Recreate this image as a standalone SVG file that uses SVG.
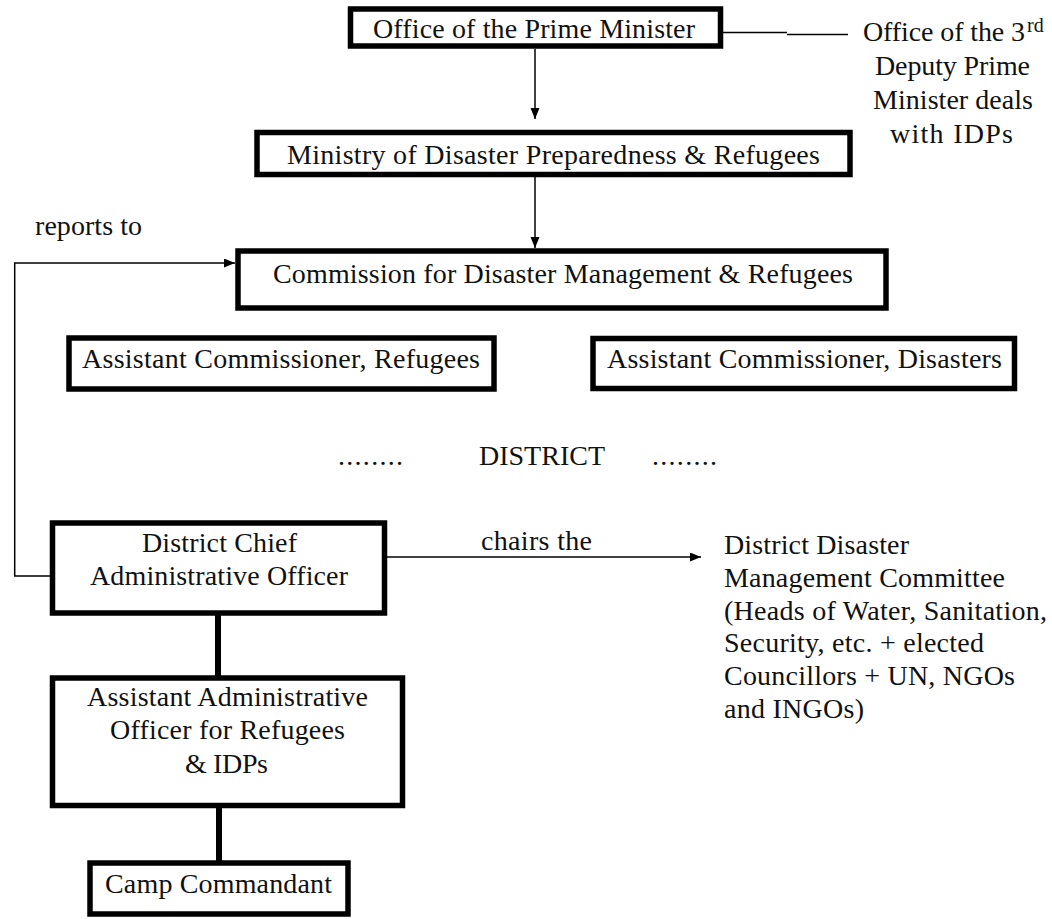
<svg xmlns="http://www.w3.org/2000/svg" width="1052" height="919" viewBox="0 0 1052 919">
  <style>
    text { font-family: "Liberation Serif", "Times New Roman", serif; font-size: 28px; fill: #111; }
    .box { fill: #fff; stroke: #000; stroke-width: 5.5; }
    .thin { fill: none; stroke: #000; stroke-width: 1.5; }
    .thick { fill: none; stroke: #000; stroke-width: 6; }
    .sup { font-size: 20px; }
  </style>
  <defs>
    <marker id="arrow" markerUnits="userSpaceOnUse" markerWidth="11" markerHeight="10" refX="11" refY="4.5" orient="auto">
      <path d="M0,0 L11,4.5 L0,9 z" fill="#000"/>
    </marker>
  </defs>
  <rect width="1052" height="919" fill="#fff"/>

  <g id="connectors">
    <line class="thin" x1="535" y1="49" x2="535" y2="119" marker-end="url(#arrow)"/>
    <line class="thin" x1="535" y1="177" x2="535" y2="248" marker-end="url(#arrow)"/>
    <path class="thin" d="M723,32.5 H787 M787,34.5 H848"/>
    <path class="thin" d="M50,576 H14.7 V263 H235" marker-end="url(#arrow)"/>
    <line class="thin" x1="387" y1="557" x2="701" y2="557" marker-end="url(#arrow)"/>
    <line class="thick" x1="218" y1="615" x2="218" y2="676"/>
    <line class="thick" x1="219" y1="807" x2="219" y2="861"/>
  </g>

  <g id="pm">
    <rect class="box" x="350.5" y="9" width="370" height="37"/>
    <text x="373" y="38" textLength="322" lengthAdjust="spacing">Office of the Prime Minister</text>
  </g>

  <g id="deputy-pm">
    <text x="863" y="41" textLength="162" lengthAdjust="spacing">Office of the 3</text>
    <text class="sup" x="1027" y="32">rd</text>
    <text x="875" y="75" textLength="155" lengthAdjust="spacing">Deputy Prime</text>
    <text x="873" y="109" textLength="160" lengthAdjust="spacing">Minister deals</text>
    <text x="890" y="143" textLength="123" lengthAdjust="spacing">with IDPs</text>
  </g>

  <g id="ministry">
    <rect class="box" x="257" y="132.5" width="593" height="42"/>
    <text x="287" y="164" textLength="533" lengthAdjust="spacing">Ministry of Disaster Preparedness &amp; Refugees</text>
  </g>

  <g id="reports-label">
    <text x="35" y="235" textLength="107" lengthAdjust="spacing">reports to</text>
  </g>

  <g id="commission">
    <rect class="box" x="238" y="251" width="648" height="57"/>
    <text x="273" y="283" textLength="580" lengthAdjust="spacing">Commission for Disaster Management &amp; Refugees</text>
  </g>

  <g id="ac-refugees">
    <rect class="box" x="69" y="338" width="425" height="51"/>
    <text x="82" y="368" textLength="398" lengthAdjust="spacing">Assistant Commissioner, Refugees</text>
  </g>

  <g id="ac-disasters">
    <rect class="box" x="593" y="338.5" width="421.5" height="50"/>
    <text x="607" y="368" textLength="395" lengthAdjust="spacing">Assistant Commissioner, Disasters</text>
  </g>

  <g id="district-row">
    <text x="338" y="465" textLength="65" lengthAdjust="spacing">........</text>
    <text x="479" y="465" textLength="126" lengthAdjust="spacing">DISTRICT</text>
    <text x="652" y="465" textLength="65" lengthAdjust="spacing">........</text>
  </g>

  <g id="dcao">
    <rect class="box" x="52.5" y="523" width="332" height="90"/>
    <text x="142" y="552" textLength="155" lengthAdjust="spacing">District Chief</text>
    <text x="90" y="585" textLength="258" lengthAdjust="spacing">Administrative Officer</text>
  </g>

  <g id="chairs-label">
    <text x="481" y="550" textLength="111" lengthAdjust="spacing">chairs the</text>
  </g>

  <g id="ddmc">
    <text x="724" y="554" textLength="185" lengthAdjust="spacing">District Disaster</text>
    <text x="724" y="587" textLength="281" lengthAdjust="spacing">Management Committee</text>
    <text x="724" y="620" textLength="323" lengthAdjust="spacing">(Heads of Water, Sanitation,</text>
    <text x="724" y="652" textLength="260" lengthAdjust="spacing">Security, etc. + elected</text>
    <text x="724" y="685" textLength="291" lengthAdjust="spacing">Councillors + UN, NGOs</text>
    <text x="724" y="718" textLength="140" lengthAdjust="spacing">and INGOs)</text>
  </g>

  <g id="aao">
    <rect class="box" x="52.5" y="678" width="350" height="127.5"/>
    <text x="87" y="706" textLength="281" lengthAdjust="spacing">Assistant Administrative</text>
    <text x="110" y="739" textLength="235" lengthAdjust="spacing">Officer for Refugees</text>
    <text x="185" y="773" textLength="83" lengthAdjust="spacing">&amp; IDPs</text>
  </g>

  <g id="camp">
    <rect class="box" x="90" y="863" width="258" height="51"/>
    <text x="105" y="893" textLength="227" lengthAdjust="spacing">Camp Commandant</text>
  </g>
</svg>
